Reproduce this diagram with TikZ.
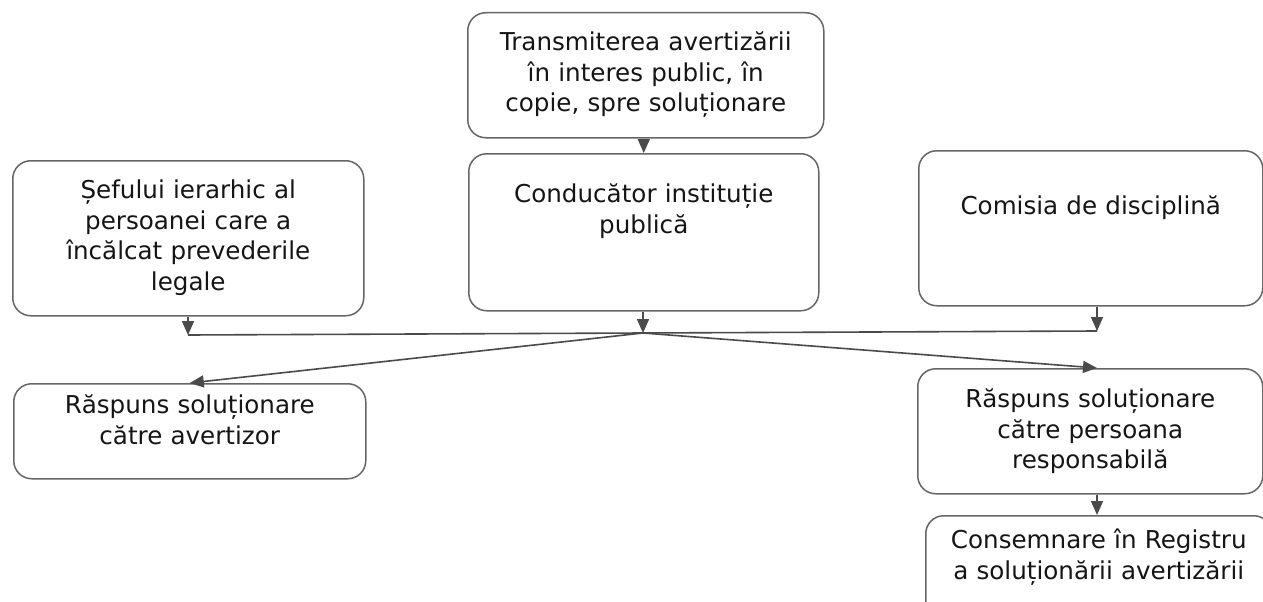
\documentclass[tikz,border=0pt]{standalone}
\usepackage{fontspec}
\setmainfont{DejaVu Sans}
\usetikzlibrary{arrows.meta}
\definecolor{boxline}{HTML}{666666}
\definecolor{conn}{HTML}{4A4A4A}
\definecolor{txt}{HTML}{151515}
\tikzset{
  x=1pt,y=-1pt,
  box/.style={draw=boxline, line width=1.5pt, rounded corners=18pt, align=center,
    inner sep=0pt, anchor=north west, text=txt,
    font=\fontsize{24.6}{30.5}\selectfont},
  link/.style={draw=conn, line width=1.6pt},
  arr/.style={link, -{Triangle[width=12pt,length=14pt]}}
}
\begin{document}
\begin{tikzpicture}
\useasboundingbox (0,0) rectangle (1263,602);
\fill[white] (0,0) rectangle (1263,602);
\node[box, minimum width=356pt, text width=346pt, text height=38pt, text depth=87pt] (top) at (467,12)
  {Transmiterea avertizării\\în interes public, în\\copie, spre soluționare};
\node[box, minimum width=350pt, text width=340pt, text height=49pt, text depth=108pt] (cond) at (468,153)
  {Conducător instituție\\publică};
\node[box, minimum width=351pt, text width=341pt, text height=38pt, text depth=117pt] (sef) at (12,160)
  {Șefului ierarhic al\\persoanei care a\\încălcat prevederile\\legale};
\node[box, minimum width=344pt, text width=334pt, text height=64pt, text depth=91pt] (com) at (918,150)
  {Comisia de disciplină};
\node[box, minimum width=352pt, text width=342pt, text height=30pt, text depth=65pt] (rav) at (13,383)
  {Răspuns soluționare\\către avertizor};
\node[box, minimum width=345pt, text width=335pt, text height=39pt, text depth=86pt] (rpers) at (917,368)
  {Răspuns soluționare\\către persoana\\responsabilă};
\node[box, minimum width=346pt, text width=346pt, text height=33pt, text depth=92pt] (cons) at (925,515)
  {Consemnare în Registru\\a soluționării avertizării};
\coordinate (L) at (188,335);
\coordinate (J) at (643,333);
\coordinate (R) at (1097,331);
\draw[arr] (cond.north |- top.south) -- (cond.north);
\draw[link] (L) -- (J) -- (R);
\draw[arr] (sef.south -| L) -- (L);
\draw[arr] (cond.south -| J) -- (J);
\draw[arr] (com.south -| R) -- (R);
\draw[arr] (J) -- (rav.north);
\draw[arr] (J) -- (rpers.north -| R);
\draw[arr] (rpers.south -| R) -- (cons.north -| R);
\end{tikzpicture}
\end{document}
